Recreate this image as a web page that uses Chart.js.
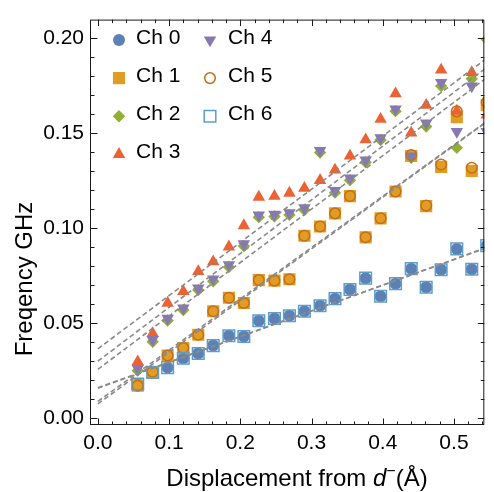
<!DOCTYPE html>
<html>
<head>
<meta charset="utf-8">
<script src="https://cdn.jsdelivr.net/npm/chart.js@4.4.0/dist/chart.umd.min.js"></script>
<style>
  html, body { margin: 0; padding: 0; background: #fff; }
  #wrap { width: 494px; height: 492px; }
</style>
</head>
<body>
<div id="wrap"><canvas id="chart" width="494" height="492"></canvas></div>
<script>
// displacement (Å) shared by all channels
const displacement = [0.056, 0.077, 0.098, 0.120, 0.141, 0.162, 0.184, 0.205, 0.226, 0.248, 0.269, 0.290,
                      0.312, 0.333, 0.354, 0.376, 0.397, 0.418, 0.440, 0.461, 0.482, 0.504, 0.525, 0.546];

// measured frequencies (GHz) per channel
const ch0 = [0.0180, 0.0240, 0.0266, 0.0315, 0.0340, 0.0382, 0.0434, 0.0430, 0.0513, 0.0525, 0.0539, 0.0563,
             0.0592, 0.0629, 0.0677, 0.0737, 0.0642, 0.0708, 0.0787, 0.0689, 0.0781, 0.0891, 0.0784, 0.0908];
const ch1 = [0.0171, 0.0244, 0.0330, 0.0369, 0.0439, 0.0563, 0.0634, 0.0606, 0.0727, 0.0724, 0.0731, 0.0960,
             0.1009, 0.1078, 0.1169, 0.0952, 0.1052, 0.1193, 0.1380, 0.1116, 0.1323, 0.1585, 0.1302, 0.1648];
const ch2 = [0.0250, 0.0402, 0.0514, 0.0569, 0.0674, 0.0721, 0.0796, 0.0906, 0.1058, 0.1062, 0.1070, 0.1096,
             0.1398, 0.1187, 0.1253, 0.1347, 0.1464, 0.1616, 0.1370, 0.1535, 0.1748, 0.1423, 0.1786, 0.1993];
const ch3 = [0.0297, 0.0446, 0.0606, 0.0667, 0.0772, 0.0824, 0.0902, 0.1014, 0.1164, 0.1169, 0.1185, 0.1211,
             0.1252, 0.1307, 0.1380, 0.1466, 0.1574, 0.1708, 0.1501, 0.1648, 0.1833, 0.1617, 0.1820, 0.1596];
const ch4 = [0.0261, 0.0413, 0.0525, 0.0580, 0.0685, 0.0732, 0.0807, 0.0917, 0.1069, 0.1073, 0.1081, 0.1107,
             0.1409, 0.1198, 0.1264, 0.1358, 0.1475, 0.1627, 0.1380, 0.1553, 0.1767, 0.1509, 0.1748, 0.1509];
const ch5 = [0.0171, 0.0244, 0.0330, 0.0369, 0.0439, 0.0563, 0.0634, 0.0606, 0.0727, 0.0724, 0.0731, 0.0960,
             0.1009, 0.1078, 0.1169, 0.0952, 0.1052, 0.1193, 0.1385, 0.1119, 0.1335, 0.1615, 0.1318, 0.1663];
const ch6 = [0.0180, 0.0240, 0.0266, 0.0315, 0.0340, 0.0382, 0.0434, 0.0430, 0.0513, 0.0525, 0.0539, 0.0563,
             0.0592, 0.0629, 0.0677, 0.0737, 0.0642, 0.0708, 0.0787, 0.0689, 0.0781, 0.0891, 0.0784, 0.0908];

// linear fits: value at each end of fitX
const fitX = [0, 0.55];
const fitCh0 = [0.0158, 0.0904];
const fitCh1 = [0.0075, 0.1571];
const fitCh2 = [0.0257, 0.1803];
const fitCh3 = [0.0365, 0.1905];
const fitCh4 = [0.0300, 0.1857];
const fitCh5 = [0.0088, 0.1573];
const fitCh6 = [0.0160, 0.0902];

const xTickValues = [0, 0.1, 0.2, 0.3, 0.4, 0.5];
const yTickValues = [0, 0.05, 0.1, 0.15, 0.2];

const FONT = '"Liberation Sans", Arial, sans-serif';

// marker look per channel (Mathematica default colours)
const channels = [
  { label: 'Ch 0', ys: ch0, fit: fitCh0, style: 'circle',   radius: 6.0, rot: 0,   color: '#5E81B5', open: false },
  { label: 'Ch 1', ys: ch1, fit: fitCh1, style: 'rect',     radius: 8.6, rot: 0,   color: '#E19C24', open: false },
  { label: 'Ch 2', ys: ch2, fit: fitCh2, style: 'rectRot',  radius: 6.2, rot: 0,   color: '#8FB032', open: false },
  { label: 'Ch 3', ys: ch3, fit: fitCh3, style: 'triangle', radius: 7.2, rot: 0,   color: '#EB6235', open: false },
  { label: 'Ch 4', ys: ch4, fit: fitCh4, style: 'triangle', radius: 7.2, rot: 180, color: '#8778B3', open: false },
  { label: 'Ch 5', ys: ch5, fit: fitCh5, style: 'circle',   radius: 5.3, rot: 0,   color: '#C56E1A', open: true },
  { label: 'Ch 6', ys: ch6, fit: fitCh6, style: 'rect',     radius: 8.2, rot: 0,   color: '#5D9EC7', open: true }
];

function toPoints(xs, ys) {
  return xs.map((x, i) => ({ x: x, y: ys[i] }));
}

let datasets = [];
channels.forEach((c, i) => {
  datasets.push({
    type: 'scatter',
    label: c.label,
    data: toPoints(displacement, c.ys),
    pointStyle: c.style,
    pointRadius: c.radius,
    pointHoverRadius: c.radius,
    pointRotation: c.rot,
    pointBackgroundColor: c.open ? 'rgba(0,0,0,0)' : c.color,
    pointBorderColor: c.color,
    pointBorderWidth: c.open ? 1.5 : 0,
    clip: 0,
    order: 10 - i      // later channels end up on top
  });
});
channels.forEach(c => {
  datasets.push({
    type: 'line',
    label: c.label + ' fit',
    data: toPoints(fitX, c.fit),
    borderColor: '#8a8a8a',
    borderWidth: 1.6,
    borderDash: [5, 3],
    pointRadius: 0,
    fill: false,
    clip: 0,
    order: 0
  });
});

// frame with inward ticks, legend and axis titles
const framePlugin = {
  id: 'framePlugin',
  afterDraw(chart) {
    const ctx = chart.ctx;
    const a = chart.chartArea;
    const xs = chart.scales.x, ys = chart.scales.y;
    ctx.save();
    ctx.strokeStyle = '#1a1a1a';
    ctx.lineWidth = 1;
    ctx.strokeRect(a.left - 0.5, a.top + 0.5, a.right - a.left, a.bottom - a.top - 1);

    const tick = (x1, y1, x2, y2) => { ctx.beginPath(); ctx.moveTo(x1, y1); ctx.lineTo(x2, y2); ctx.stroke(); };
    for (let k = 0; k <= 27; k++) {
      const v = k * 0.02;
      const px = Math.round(xs.getPixelForValue(v)) + 0.5;
      if (px < a.left || px > a.right) continue;
      const len = (k % 5 === 0) ? 6.5 : 3.5;
      tick(px, a.bottom, px, a.bottom - len);
      tick(px, a.top, px, a.top + len);
    }
    for (let k = 0; k <= 21; k++) {
      const v = k * 0.01;
      const py = Math.round(ys.getPixelForValue(v)) + 0.5;
      if (py < a.top || py > a.bottom) continue;
      const len = (k % 5 === 0) ? 6.5 : 3.5;
      tick(a.left, py, a.left + len, py);
      tick(a.right, py, a.right - len, py);
    }

    // legend, two columns
    const cols = [{ mx: 119, tx: 136 }, { mx: 210, tx: 228 }];
    ctx.font = '21px ' + FONT;
    ctx.textBaseline = 'alphabetic';
    ctx.textAlign = 'left';
    channels.forEach((c, i) => {
      const col = cols[i < 4 ? 0 : 1];
      const row = i < 4 ? i : i - 4;
      const baseY = 44 + row * 38.1;
      ctx.fillStyle = c.open ? 'rgba(0,0,0,0)' : c.color;
      ctx.strokeStyle = c.color;
      ctx.lineWidth = 1.5;
      Chart.helpers.drawPoint(ctx, {
        pointStyle: c.style, radius: c.radius, rotation: c.rot, borderWidth: c.open ? 1.5 : 0
      }, col.mx, baseY - 4);
      ctx.fillStyle = '#000';
      ctx.fillText(c.label, col.tx, baseY);
    });

    // x title with italic d and superscript bar
    const parts = [
      { t: 'Displacement from ', f: '24px ' + FONT, dy: 0 },
      { t: 'd', f: 'italic 24px ' + FONT, dy: 0 },
      { t: '\u2212', f: '16px ' + FONT, dy: -10 },
      { t: '(\u00C5)', f: '24px ' + FONT, dy: 0 }
    ];
    let total = 0;
    parts.forEach(p => { ctx.font = p.f; p.w = ctx.measureText(p.t).width; total += p.w; });
    let x = 297 - total / 2;
    ctx.fillStyle = '#000';
    parts.forEach(p => { ctx.font = p.f; ctx.fillText(p.t, x, 486 + p.dy); x += p.w; });

    // y title
    ctx.translate(25, 279);
    ctx.rotate(-Math.PI / 2);
    ctx.font = '24px ' + FONT;
    ctx.textAlign = 'center';
    ctx.textBaseline = 'middle';
    ctx.fillText('Freqency GHz', 0, 0);
    ctx.restore();
  }
};

const ctx = document.getElementById('chart').getContext('2d');
let chart = new Chart(ctx, {
  type: 'scatter',
  data: { datasets },
  options: {
    responsive: false,
    animation: false,
    devicePixelRatio: 1,
    layout: { padding: { top: 12.5, right: 1, left: 0, bottom: 0 } },
    plugins: { legend: { display: false }, tooltip: { enabled: false } },
    scales: {
      x: {
        type: 'linear',
        min: -0.0096,
        max: 0.5426,
        grid: { display: false, drawTicks: false },
        border: { display: false },
        afterBuildTicks: s => { s.ticks = xTickValues.map(v => ({ value: v })); },
        afterFit: s => { s.height = 67; },
        ticks: {
          autoSkip: false, maxRotation: 0, padding: 6, color: '#000',
          font: { family: FONT, size: 21 },
          callback: v => v.toFixed(1)
        }
      },
      y: {
        type: 'linear',
        min: -0.0036,
        max: 0.2098,
        grid: { display: false, drawTicks: false },
        border: { display: false },
        afterBuildTicks: s => { s.ticks = yTickValues.map(v => ({ value: v })); },
        afterFit: s => { s.width = 91; },
        ticks: {
          autoSkip: false, padding: 7, color: '#000',
          font: { family: FONT, size: 21 },
          callback: v => v.toFixed(2)
        }
      }
    }
  },
  plugins: [framePlugin]
});
</script>
</body>
</html>
